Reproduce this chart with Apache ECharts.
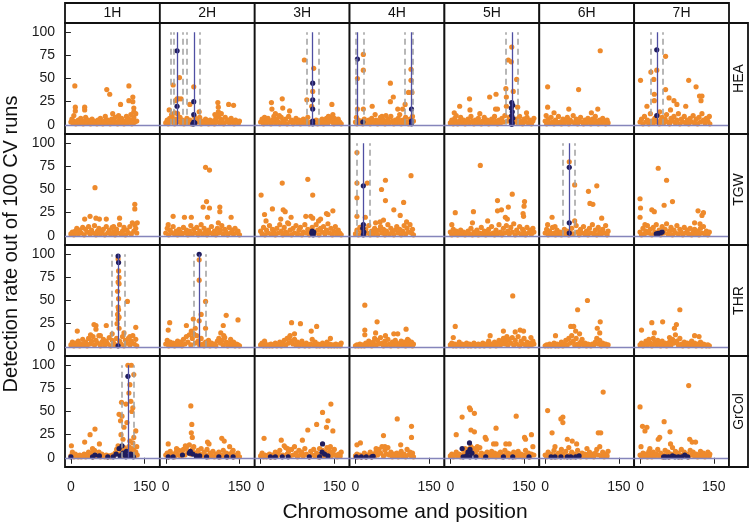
<!DOCTYPE html>
<html><head><meta charset="utf-8">
<script src="https://cdn.jsdelivr.net/npm/echarts@6/dist/echarts.min.js"></script>
<style>html,body{margin:0;padding:0;background:#fff}#c{width:752px;height:526px}</style>
</head><body><div id="c"></div>
<script>
const chromosomes = ['1H','2H','3H','4H','5H','6H','7H'];
const traits = ['HEA','TGW','THR','GrCol'];
const yTicks = [0,25,50,75,100];
const xTicks = [0,150];

// orange points (flat x,y lists), one list per chromosome
const HEA_orange = [
[8,42, 9,19, 9,15, 28,19, 28,16, 73,38, 79,33, 118,42, 101,22, 118,26, 126,30, 126,25, 128,18, 128,14, 97,10, 85,12, 6,10, 0,3, 2,6, 4,2, 6,4, 10,1, 12,3, 15,5, 18,2, 20,7, 22,3, 25,1, 28,4, 30,8, 32,2, 35,5, 38,3, 40,1, 43,6, 45,2, 48,4, 50,3, 53,1, 55,5, 58,2, 60,7, 63,3, 65,1, 68,4, 70,9, 72,2, 75,5, 78,3, 80,1, 83,6, 86,2, 88,4, 90,8, 93,3, 95,1, 98,5, 100,2, 103,7, 105,3, 108,1, 110,4, 113,9, 115,2, 118,6, 120,3, 122,11, 124,1, 126,5, 128,8, 130,3, 132,12, 134,4, 127,2],
[15,43, 28,51, 23,28, 26,28, 31,28, 20,26, 57,41, 49,22, 68,14, 106,24, 107,19, 128,22, 138,21, 107,14, 7,16, 12,11, 18,13, 0,2, 3,5, 5,1, 8,7, 10,3, 13,9, 16,4, 18,1, 21,6, 24,12, 26,3, 29,8, 32,2, 34,5, 37,1, 40,4, 43,7, 46,2, 49,5, 52,1, 55,3, 58,9, 60,2, 63,6, 66,3, 69,8, 72,1, 75,4, 78,2, 81,6, 84,3, 87,1, 90,5, 93,2, 96,4, 99,1, 102,7, 104,3, 107,9, 110,2, 112,6, 115,4, 118,1, 121,8, 124,3, 127,5, 130,2, 133,7, 136,4, 139,1, 142,5, 145,3, 148,2, 150,4, 100,11, 113,12],
[89,70, 108,61, 106,36, 94,27, 104,20, 22,24, 44,28, 45,18, 23,17, 59,15, 145,22, 147,11, 8,8, 30,12, 38,10, 0,3, 3,6, 6,1, 9,4, 12,2, 15,7, 18,3, 21,1, 24,5, 27,9, 30,2, 33,6, 36,3, 39,1, 42,8, 45,4, 48,2, 51,6, 54,1, 57,9, 60,3, 63,5, 66,1, 69,4, 72,7, 75,2, 78,5, 81,1, 84,3, 87,6, 90,2, 93,4, 96,8, 99,1, 102,3, 110,2, 113,5, 116,1, 119,4, 122,2, 125,6, 128,1, 131,3, 134,7, 137,2, 140,5, 143,8, 146,3, 149,1, 152,4, 155,2, 158,6, 161,3, 164,1, 138,9, 150,7],
[16,76, 16,59, 4,50, 4,17, 16,17, 34,20, 71,45, 71,25, 77,30, 86,17, 96,17, 101,22, 113,60, 113,48, 108,35, 115,35, 40,11, 54,9, 90,11, 2,8, 0,3, 3,1, 6,5, 9,2, 12,4, 15,1, 18,6, 21,3, 24,2, 27,5, 30,1, 33,7, 36,3, 39,2, 42,5, 45,1, 48,4, 51,8, 54,2, 57,5, 60,1, 63,3, 66,6, 69,2, 72,9, 75,4, 78,1, 81,5, 84,2, 87,7, 90,3, 93,1, 96,5, 99,2, 102,8, 105,3, 108,1, 111,6, 114,2, 116,9, 118,4, 62,10],
[125,84, 118,70, 124,68, 135,49, 113,39, 128,36, 39,28, 80,30, 93,33, 19,20, 8,13, 40,16, 92,17, 96,17, 114,30, 114,20, 137,19, 155,13, 12,10, 60,12, 0,2, 3,5, 6,1, 9,7, 12,3, 15,1, 18,4, 21,8, 24,2, 27,5, 30,1, 33,3, 36,6, 39,2, 42,9, 45,4, 48,1, 51,5, 54,2, 57,7, 60,3, 63,1, 66,4, 69,8, 72,2, 75,5, 78,1, 81,3, 84,6, 87,2, 90,9, 93,4, 96,1, 99,5, 102,2, 105,7, 108,3, 111,10, 117,4, 120,8, 131,3, 134,6, 138,2, 141,9, 144,4, 147,1, 150,6, 153,3, 156,8, 159,2, 162,5, 165,1, 168,4, 170,7],
[112,80, 5,41, 68,38, 5,19, 48,17, 107,17, 18,13, 94,13, 2,10, 0,4, 3,1, 6,6, 9,2, 12,8, 15,3, 18,1, 21,5, 24,2, 27,9, 30,3, 33,1, 36,6, 39,2, 42,4, 45,8, 48,1, 51,5, 54,3, 57,10, 60,2, 63,6, 66,1, 69,4, 72,8, 75,3, 78,1, 81,5, 84,2, 87,7, 90,3, 93,1, 96,6, 99,2, 102,9, 105,4, 108,1, 111,5, 114,2, 117,7, 120,3, 123,1, 126,5, 128,2],
[52,74, 22,57, 34,59, 28,49, 1,48, 99,48, 114,41, 52,38, 29,33, 29,26, 121,31, 126,31, 124,26, 69,26, 75,22, 93,20, 14,20, 59,29, 62,16, 40,14, 0,3, 3,6, 6,1, 9,9, 12,3, 15,5, 18,1, 21,12, 24,4, 27,2, 30,7, 33,3, 36,10, 39,1, 42,5, 45,8, 48,2, 51,6, 54,11, 57,3, 60,1, 63,7, 66,4, 69,9, 72,2, 75,5, 78,12, 81,1, 84,6, 87,3, 90,9, 93,2, 96,5, 99,1, 102,7, 105,3, 108,10, 111,2, 114,6, 117,1, 120,8, 123,3, 126,12, 129,5, 132,2, 135,7, 138,4, 141,9, 142,1]
];
const TGW_orange = [
[49,52, 28,18, 39,21, 51,19, 58,18, 72,18, 99,19, 130,34, 130,29, 87,10, 0,2, 3,4, 6,1, 9,5, 12,8, 15,2, 18,6, 21,3, 24,9, 27,1, 30,7, 33,4, 36,10, 39,2, 42,6, 45,3, 48,11, 51,1, 54,5, 57,8, 60,2, 63,4, 66,7, 69,1, 72,10, 75,3, 78,6, 81,2, 84,9, 87,4, 90,1, 93,7, 96,3, 99,12, 102,2, 105,5, 108,9, 111,1, 114,6, 117,3, 120,10, 123,2, 125,14, 128,5, 130,12, 132,8, 134,3, 135,14],
[81,74, 89,71, 83,37, 76,31, 89,30, 110,31, 110,26, 85,20, 15,21, 38,20, 52,20, 133,20, 107,14, 5,12, 0,3, 3,8, 6,1, 9,6, 12,3, 15,10, 18,2, 21,5, 24,1, 27,7, 30,4, 33,2, 36,9, 39,3, 42,6, 45,1, 48,5, 51,11, 54,2, 57,7, 60,3, 63,9, 66,1, 69,5, 72,12, 75,2, 78,8, 81,4, 84,1, 87,6, 90,3, 93,10, 96,2, 99,5, 102,1, 105,8, 108,3, 111,6, 114,11, 117,2, 120,7, 123,4, 126,1, 129,9, 132,3, 135,6, 138,2, 141,8, 144,3, 147,5, 150,1],
[1,44, 44,57, 96,61, 106,44, 8,23, 24,29, 11,16, 46,28, 50,26, 62,20, 92,21, 102,21, 106,19, 118,16, 122,18, 134,24, 137,23, 147,27, 41,18, 55,14, 0,5, 3,2, 6,9, 9,1, 12,6, 15,3, 18,11, 21,2, 24,7, 27,4, 30,1, 33,8, 36,3, 39,12, 42,5, 45,1, 48,9, 51,4, 54,2, 57,13, 60,6, 63,1, 66,8, 69,3, 72,11, 75,2, 78,6, 81,9, 84,1, 87,4, 90,12, 93,3, 96,7, 99,1, 102,5, 105,9, 110,3, 113,12, 116,6, 119,1, 122,8, 125,4, 128,10, 131,2, 134,6, 137,13, 140,3, 143,8, 146,1, 149,5, 152,10, 155,2, 158,6, 161,3, 164,1],
[3,90, 3,57, 3,41, 24,57, 3,21, 20,20, 61,60, 53,50, 61,38, 113,65, 98,36, 78,28, 91,22, 41,14, 50,15, 57,17, 104,15, 0,2, 3,6, 6,1, 9,9, 12,4, 18,2, 21,7, 24,3, 27,11, 30,1, 33,5, 36,2, 39,8, 42,4, 45,1, 48,6, 51,10, 54,3, 57,7, 60,1, 63,5, 66,12, 69,2, 72,8, 75,4, 78,1, 81,6, 84,10, 87,3, 90,7, 93,1, 96,5, 99,11, 102,2, 105,8, 108,4, 111,12, 114,3, 116,7, 118,1],
[61,76, 10,25, 47,26, 76,16, 96,38, 96,27, 104,28, 118,31, 126,45, 151,37, 150,32, 148,24, 149,21, 112,20, 116,18, 45,14, 3,12, 0,4, 3,1, 6,7, 9,2, 12,5, 15,1, 18,3, 21,6, 24,2, 27,4, 30,1, 33,3, 36,5, 39,2, 42,8, 45,1, 48,4, 51,2, 54,6, 57,1, 60,3, 63,9, 66,2, 69,5, 72,1, 75,4, 78,7, 81,2, 84,10, 87,3, 90,1, 93,6, 96,2, 99,12, 102,4, 105,1, 108,8, 111,3, 114,11, 117,5, 120,2, 123,9, 126,4, 129,13, 132,1, 135,6, 138,3, 141,10, 144,2, 147,7, 150,4, 153,1, 156,9, 159,3, 162,6, 165,2, 168,8, 170,4],
[49,80, 60,55, 88,48, 105,54, 91,35, 97,34, 115,19, 14,20, 5,12, 60,16, 20,10, 0,3, 3,7, 6,1, 9,5, 12,2, 15,9, 18,3, 21,1, 24,6, 27,2, 30,4, 33,1, 36,3, 39,7, 42,2, 45,5, 48,1, 51,3, 54,8, 57,2, 63,11, 66,4, 69,1, 72,7, 75,3, 78,10, 81,2, 84,5, 87,1, 90,8, 93,3, 96,12, 99,2, 102,6, 105,1, 108,9, 111,4, 114,2, 117,7, 120,3, 123,11, 126,1, 128,5],
[37,73, 54,60, 0,40, 66,37, 49,33, 1,30, 24,28, 29,26, 118,27, 129,25, 126,22, 111,14, 122,13, 0,20, 10,12, 0,4, 3,1, 6,8, 9,2, 12,5, 15,11, 18,3, 21,7, 24,1, 27,9, 30,4, 33,12, 36,2, 39,6, 42,1, 45,10, 48,3, 51,7, 54,13, 57,2, 60,5, 63,9, 66,1, 69,6, 72,3, 75,11, 78,2, 81,7, 84,4, 87,1, 90,9, 93,3, 96,6, 99,2, 102,8, 105,1, 108,4, 111,7, 114,2, 117,5, 120,1, 123,8, 126,3, 129,10, 132,2, 135,5, 138,1, 141,4]
];
const THR_orange = [
[96,95, 97,82, 98,75, 96,70, 98,68, 95,60, 97,52, 115,49, 96,43, 97,40, 95,35, 98,32, 96,30, 94,25, 98,20, 13,17, 47,24, 51,23, 51,19, 72,23, 132,21, 40,13, 60,12, 84,14, 108,15, 120,11, 0,2, 3,5, 6,1, 9,4, 12,2, 15,6, 18,1, 21,3, 24,8, 27,2, 30,5, 33,1, 36,9, 39,3, 42,6, 45,11, 48,2, 51,7, 54,4, 57,12, 60,1, 63,5, 66,8, 69,2, 72,6, 75,3, 78,10, 81,1, 84,7, 87,4, 90,2, 93,9, 99,6, 102,3, 105,11, 108,1, 111,7, 114,4, 117,9, 120,2, 123,6, 126,12, 129,3, 132,8, 134,1],
[68,94, 68,72, 81,49, 72,35, 68,28, 56,30, 81,20, 8,26, 5,18, 42,23, 52,17, 60,20, 123,34, 117,23, 147,29, 112,15, 118,12, 0,3, 3,7, 6,1, 9,5, 12,2, 15,4, 18,1, 21,3, 24,6, 27,2, 30,5, 33,1, 36,8, 39,3, 42,11, 45,5, 48,13, 51,2, 54,9, 57,14, 60,4, 63,12, 66,6, 69,2, 72,9, 75,3, 78,1, 81,5, 84,2, 87,7, 90,1, 93,4, 96,2, 99,3, 102,1, 105,6, 108,9, 111,4, 114,7, 117,2, 120,10, 123,5, 126,1, 129,4, 132,8, 135,2, 138,5, 141,1, 144,3, 147,2, 150,1],
[63,26, 81,25, 103,17, 114,22, 69,14, 58,10, 142,9, 8,6, 0,2, 3,4, 6,1, 9,3, 12,1, 15,2, 18,1, 21,3, 24,1, 27,2, 30,4, 33,1, 36,2, 39,5, 42,1, 45,3, 48,7, 51,2, 54,9, 57,4, 60,12, 63,6, 66,3, 69,8, 72,2, 75,5, 78,1, 81,3, 84,6, 87,2, 90,1, 93,4, 96,2, 99,1, 102,3, 105,8, 108,2, 111,5, 114,1, 117,3, 120,1, 123,2, 126,4, 129,1, 132,2, 135,5, 138,1, 141,3, 144,1, 147,2, 150,1, 153,3, 156,1, 159,2, 162,1, 164,4],
[19,45, 44,27, 19,18, 19,13, 41,15, 61,12, 78,14, 86,14, 103,19, 106,8, 0,1, 3,2, 6,1, 9,3, 12,1, 15,2, 18,1, 21,4, 24,2, 27,6, 30,3, 33,1, 36,5, 39,9, 42,2, 45,7, 48,3, 51,10, 54,4, 57,1, 60,6, 63,2, 66,8, 69,3, 72,1, 75,5, 78,2, 81,7, 84,4, 87,1, 90,3, 93,6, 96,2, 99,5, 102,1, 105,4, 108,7, 111,2, 114,5, 116,1, 118,3],
[127,55, 10,22, 6,10, 81,12, 108,17, 132,16, 142,18, 149,17, 164,10, 115,11, 0,2, 3,4, 6,1, 9,3, 12,1, 15,2, 18,5, 21,1, 24,3, 27,1, 30,2, 33,4, 36,1, 39,3, 42,1, 45,2, 48,4, 51,1, 54,2, 57,3, 60,1, 63,2, 66,4, 69,1, 72,3, 75,2, 78,6, 81,1, 84,3, 87,2, 90,5, 93,1, 96,3, 99,7, 102,2, 105,5, 108,9, 111,3, 114,6, 117,2, 120,8, 123,4, 126,10, 129,2, 132,7, 135,3, 138,11, 141,1, 144,6, 147,3, 150,9, 153,2, 156,5, 159,1, 162,4, 165,2, 168,6, 170,3],
[86,50, 66,40, 112,27, 52,22, 58,22, 62,17, 21,12, 106,20, 111,15, 70,14, 0,1, 3,2, 6,1, 9,3, 12,1, 15,2, 18,4, 21,1, 24,3, 27,1, 30,2, 33,5, 36,1, 39,3, 42,7, 45,2, 48,9, 51,4, 54,12, 57,6, 60,2, 63,9, 66,3, 69,1, 72,5, 75,8, 78,2, 81,4, 84,1, 87,3, 90,2, 93,1, 96,3, 99,2, 102,5, 105,9, 108,3, 111,7, 114,1, 117,4, 120,2, 123,3, 126,1, 128,2],
[81,40, 24,26, 46,27, 3,18, 70,20, 74,24, 111,12, 120,11, 29,15, 60,10, 0,2, 3,4, 6,1, 9,3, 12,6, 15,2, 18,8, 21,4, 24,1, 27,9, 30,5, 33,2, 36,7, 39,3, 42,1, 45,6, 48,2, 51,4, 54,1, 57,3, 60,5, 63,2, 66,8, 69,4, 72,13, 75,6, 78,2, 81,9, 84,3, 87,1, 90,5, 93,2, 96,4, 99,1, 102,3, 105,6, 108,2, 111,4, 114,1, 117,3, 120,2, 123,5, 126,1, 129,3, 132,2, 135,1, 138,2, 141,1]
];
const GrCol_orange = [
[116,100, 123,100, 128,90, 120,79, 118,70, 103,60, 122,61, 126,54, 98,47, 104,45, 101,40, 124,50, 108,33, 132,29, 102,25, 128,22, 112,58, 114,38, 120,18, 106,20, 118,12, 126,16, 49,31, 39,25, 28,17, 1,13, 58,15, 44,10, 0,2, 3,6, 6,1, 9,4, 12,2, 15,1, 18,3, 21,1, 24,2, 27,4, 30,1, 33,3, 36,6, 39,2, 42,5, 45,1, 48,8, 51,3, 54,2, 57,6, 60,1, 63,4, 66,2, 69,1, 72,3, 75,1, 78,2, 81,1, 84,3, 87,2, 90,5, 93,9, 96,13, 99,4, 102,8, 105,2, 108,11, 110,6, 112,3, 114,9, 116,2, 118,5, 120,7, 122,3, 124,10, 126,4, 128,8, 130,2, 132,6, 134,12, 135,3],
[51,56, 53,36, 52,27, 54,22, 5,15, 22,10, 40,13, 85,17, 88,15, 114,21, 119,18, 130,12, 137,8, 0,3, 3,5, 6,1, 9,7, 12,2, 15,4, 18,1, 21,6, 24,3, 27,8, 30,2, 33,5, 36,9, 39,3, 42,11, 45,6, 48,14, 51,4, 54,9, 57,12, 60,5, 63,2, 66,8, 69,4, 72,10, 75,2, 78,6, 81,3, 84,9, 87,1, 90,5, 93,2, 96,7, 99,1, 102,4, 105,2, 108,6, 111,1, 114,3, 117,8, 120,2, 123,5, 126,1, 129,4, 132,2, 135,6, 138,1, 141,3, 144,2, 147,5, 150,1],
[143,58, 126,49, 137,40, 134,33, 147,29, 114,36, 96,30, 7,21, 85,19, 42,19, 48,13, 55,10, 142,12, 120,10, 0,2, 3,5, 6,1, 9,3, 12,1, 15,2, 18,4, 21,1, 24,3, 27,1, 30,6, 33,2, 36,4, 39,8, 45,3, 51,11, 54,4, 57,7, 60,2, 63,9, 66,3, 69,12, 72,5, 75,1, 78,8, 81,3, 84,6, 87,2, 90,10, 93,4, 99,1, 102,7, 105,3, 108,9, 111,2, 114,5, 117,1, 123,4, 126,8, 129,2, 132,6, 135,11, 138,3, 141,7, 144,2, 147,5, 150,9, 153,3, 156,1, 159,4, 162,2, 164,6],
[85,42, 114,34, 114,22, 57,24, 3,14, 10,16, 60,12, 92,14, 42,10, 0,2, 3,4, 6,1, 9,3, 12,1, 15,2, 18,5, 21,1, 24,3, 27,2, 30,6, 33,1, 36,4, 39,2, 42,7, 45,3, 48,9, 51,5, 54,12, 57,2, 60,8, 63,4, 66,11, 69,3, 72,6, 75,1, 78,4, 81,2, 84,5, 87,1, 90,3, 93,7, 96,2, 99,4, 102,1, 105,9, 108,3, 111,6, 114,2, 116,5, 118,1],
[39,54, 41,52, 49,48, 24,44, 134,45, 42,30, 49,28, 12,25, 93,32, 71,22, 73,20, 151,22, 153,20, 88,15, 93,15, 113,15, 120,15, 30,10, 55,12, 165,25, 0,2, 3,4, 6,1, 9,3, 12,6, 15,2, 18,4, 21,1, 24,3, 27,8, 30,2, 33,5, 36,9, 39,3, 42,12, 45,6, 48,10, 51,4, 54,8, 57,2, 60,11, 63,5, 66,1, 69,4, 72,2, 75,6, 78,1, 81,3, 84,7, 87,2, 90,5, 93,1, 96,4, 99,2, 102,6, 105,1, 108,3, 111,8, 114,2, 117,5, 120,1, 123,4, 126,2, 129,6, 132,1, 135,3, 138,7, 141,2, 144,4, 147,1, 150,3, 153,8, 156,2, 159,5, 162,1, 165,4, 168,12, 170,3],
[118,71, 5,51, 32,42, 36,44, 36,38, 14,27, 45,20, 55,18, 108,27, 113,27, 64,15, 20,12, 85,10, 0,3, 3,1, 6,6, 9,2, 12,4, 15,1, 18,8, 21,3, 24,1, 27,5, 30,2, 33,9, 36,4, 39,1, 42,7, 45,2, 48,11, 51,3, 54,6, 57,1, 60,4, 63,2, 66,8, 69,3, 72,1, 75,5, 78,2, 81,4, 84,1, 87,3, 90,6, 93,2, 96,4, 99,1, 102,5, 105,9, 108,3, 111,12, 114,2, 117,6, 120,1, 123,4, 126,2, 128,7],
[99,78, 0,55, 49,39, 5,34, 10,29, 14,33, 61,28, 40,22, 37,20, 62,15, 101,20, 106,17, 113,17, 20,10, 2,12, 0,3, 3,1, 6,5, 9,2, 12,4, 15,1, 18,7, 21,3, 24,1, 27,6, 30,2, 33,4, 36,9, 39,2, 42,5, 45,1, 48,3, 51,8, 54,2, 57,6, 60,1, 63,4, 66,11, 69,3, 72,7, 75,2, 78,5, 81,1, 84,9, 87,3, 90,6, 93,2, 96,4, 99,1, 102,8, 105,3, 108,6, 111,2, 114,4, 117,1, 120,3, 123,7, 126,2, 129,5, 132,1, 135,3, 138,6, 141,2, 142,4]
];

// navy (selected marker) points
const HEA_navy = [[], [23,80, 23,20, 57,25, 57,11, 57,3, 57,1, 55,1, 59,2], [106,45, 106,27, 106,17, 106,4, 106,1], [4,71, 15,3, 114,17, 114,4, 114,1], [125,24, 127,21, 124,18, 126,14, 125,10, 127,7, 124,4, 126,2, 125,0.5], [], [34,81, 34,10]];
const TGW_navy = [[], [], [104,3, 106,2, 108,4, 107,1, 105,5], [16,54, 16,12, 15,8, 17,4, 16,1], [], [49,74, 49,14, 49,3], [33,2, 37,2.5, 41,3, 45,4, 35,1.5]];
const THR_navy = [[96,98, 97,91, 96,1], [68,100], [], [], [], [], []];
const GrCol_navy = [[116,88, 98,10, 104,13, 0,1, 44,1, 49,3, 58,2, 75,1, 86,1, 92,4, 100,2, 106,5, 110,3, 113,7, 118,2, 122,4, 127,1, 112,1], [5,1, 15,1, 34,3, 48,5, 50,7, 55,4, 69,2, 83,1, 108,1, 124,1, 137,1, 62,2], [126,15, 125,6, 137,2, 120,1, 99,1, 56,1, 44,1, 30,1, 20,1, 130,4], [2,1, 12,1, 22,1, 33,1, 36,1.5], [39,16, 24,10, 40,9, 36,6, 44,5, 26,1, 40,1, 52,1, 72,1, 108,1, 127,1, 160,1, 33,2], [12,1, 20,1, 32,1, 45,1, 52,1, 62,1, 69,2], [48,1, 52,1, 58,1, 66,2, 71,1, 78,1, 85,1, 91,3, 97,1]];

// QTL positions (solid) and confidence limits (dashed)
const HEA_qtl = [[], [23,57], [106], [4,114], [126], [], [34]];
const HEA_ci = [[], [10,16,35,42,69], [94,118], [0,16,101,117], [113,137], [], [22,47]];
const TGW_qtl = [[], [], [], [16], [], [49], []];
const TGW_ci = [[], [], [], [3,30], [], [36,61], []];
const THR_qtl = [[96], [68], [], [], [], [], []];
const THR_ci = [[84,110], [56,81], [], [], [], [], []];
const GrCol_qtl = [[116], [], [], [], [], [], []];
const GrCol_ci = [[103,128], [], [], [], [], [], []];

const orangeAll = [HEA_orange, TGW_orange, THR_orange, GrCol_orange];
const navyAll = [HEA_navy, TGW_navy, THR_navy, GrCol_navy];
const qtlAll = [HEA_qtl, TGW_qtl, THR_qtl, GrCol_qtl];
const ciAll = [HEA_ci, TGW_ci, THR_ci, GrCol_ci];

function pairs(flat){ const o=[]; for(let i=0;i<flat.length;i+=2) o.push([flat[i],flat[i+1]]); return o; }

const FONT = '"Liberation Sans", Arial, sans-serif';
const L0 = 65, T0 = 23, W = (729-65)/7, H = 111;
const grid=[], xAxis=[], yAxis=[], series=[], graphic=[];

for (let r=0;r<4;r++){
  for (let c=0;c<7;c++){
    const idx = r*7+c;
    grid.push({left:L0+c*W, top:T0+r*H, width:W, height:H, show:true, borderColor:'#111', borderWidth:1.8, backgroundColor:'#fff'});
    xAxis.push({gridIndex:idx, type:'value', min:-12, max:181,
      axisLine:{show:false}, splitLine:{show:false},
      axisTick:{show:r===3, customValues:xTicks, length:6, lineStyle:{color:'#222'}},
      axisLabel:{show:r===3, customValues:xTicks, fontSize:14, color:'#1a1a1a', margin:13, fontFamily:FONT}});
    yAxis.push({gridIndex:idx, type:'value', min:-10, max:110,
      axisLine:{show:false}, splitLine:{show:false},
      axisTick:{show:c===0, customValues:yTicks, length:6, lineStyle:{color:'#222'}},
      axisLabel:{show:c===0, customValues:yTicks, fontSize:14, color:'#1a1a1a', margin:10, fontFamily:FONT}});
    const lines = [{yAxis:0, lineStyle:{color:'#8585bb', width:1.4, type:'solid'}}];
    ciAll[r][c].forEach(v=>lines.push([{coord:[v,0], lineStyle:{color:'#a0a0a0', width:1.5, type:[6,4]}},{coord:[v,100]}]));
    qtlAll[r][c].forEach(v=>lines.push([{coord:[v,0], lineStyle:{color:'#4f4fa3', width:1.3, type:'solid'}},{coord:[v,100]}]));
    series.push({type:'scatter', xAxisIndex:idx, yAxisIndex:idx, data:[], z:2, silent:true,
      markLine:{silent:true, symbol:['none','none'], label:{show:false}, animation:false, data:lines}});
    series.push({type:'scatter', xAxisIndex:idx, yAxisIndex:idx, data:pairs(orangeAll[r][c]), symbolSize:5.2,
      itemStyle:{color:'#ee8a2c', opacity:1}, z:3, silent:true, animation:false});
    series.push({type:'scatter', xAxisIndex:idx, yAxisIndex:idx, data:pairs(navyAll[r][c]), symbolSize:5.2,
      itemStyle:{color:'#1f1c5c', opacity:1}, z:4, silent:true, animation:false});
  }
}
// top strips
chromosomes.forEach((ch,c)=>{
  graphic.push({type:'rect', shape:{x:L0+c*W, y:3, width:W, height:20}, style:{fill:'#fff', stroke:'#111', lineWidth:1.8}, z:10});
  graphic.push({type:'text', x:L0+c*W+W/2, y:13.5, style:{text:ch, fontSize:14, fontFamily:FONT, fill:'#111', textAlign:'center', textVerticalAlign:'middle'}, z:11});
});
// right strips
traits.forEach((t,r)=>{
  graphic.push({type:'rect', shape:{x:729, y:T0+r*H, width:19, height:H}, style:{fill:'#fff', stroke:'#111', lineWidth:1.8}, z:10});
  graphic.push({type:'text', x:739, y:T0+r*H+H/2, rotation:Math.PI/2, style:{text:t, fontSize:14, fontFamily:FONT, fill:'#111', textAlign:'center', textVerticalAlign:'middle'}, z:11});
});
graphic.push({type:'text', x:11, y:244, rotation:Math.PI/2, style:{text:'Detection rate out of 100 CV runs', fontSize:20, fontFamily:FONT, fill:'#111', textAlign:'center', textVerticalAlign:'middle'}, z:11});
graphic.push({type:'text', x:405, y:512, style:{text:'Chromosome and position', fontSize:21, fontFamily:FONT, fill:'#111', textAlign:'center', textVerticalAlign:'middle'}, z:11});

const chart = echarts.init(document.getElementById('c'), null, {renderer:'canvas'});
chart.setOption({animation:false, backgroundColor:'#fff', grid, xAxis, yAxis, series, graphic});
</script></body></html>
